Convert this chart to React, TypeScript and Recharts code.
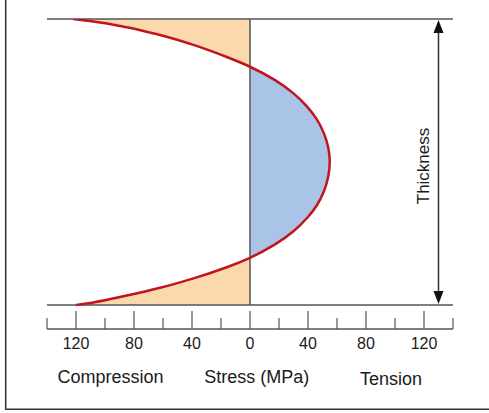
import {
  Area,
  ComposedChart,
  Line,
  ReferenceLine,
  XAxis,
  YAxis,
} from "recharts";

// depth through the thickness (0 = top surface, 1 = bottom surface)
const depth = [
  0, 0.0085, 0.0285, 0.056, 0.0906, 0.133, 0.167, 0.213, 0.26, 0.307, 0.35,
  0.4, 0.45, 0.5, 0.55, 0.602, 0.652, 0.695, 0.742, 0.789, 0.835, 0.868, 0.907,
  0.94, 0.967, 0.991, 1,
];

// residual stress in MPa (negative = compression)
const stress = [
  -122, -108, -85, -62, -39, -16, 0, 17, 30, 39.5, 46, 51, 54, 55, 54, 51, 46,
  39.5, 30, 17, 0, -16, -39, -62, -85, -108, -120,
];

const stressTicks = [
  -140, -120, -100, -80, -60, -40, -20, 0, 20, 40, 60, 80, 100, 120, 140,
];

const bottomLabels = ["Compression", "Stress (MPa)", "Tension"];

const data = depth.map((d, i) => ({ depth: d, stress: stress[i] }));

// where the fill switches from compression (orange) to tension (blue)
const minStress = Math.min(...stress);
const maxStress = Math.max(...stress);
const zeroOffset = -minStress / (maxStress - minStress);

const FONT = "'Liberation Sans', Arial, Helvetica, sans-serif";

function StressTick({ x, y, payload }: any) {
  const v = payload.value;
  const major = v % 40 === 0;
  const labelled = major && Math.abs(v) <= 120;
  return (
    <g>
      <line
        x1={x}
        y1={y}
        x2={x}
        y2={y - (major ? 18 : 11)}
        stroke="#555"
        strokeWidth={1.2}
      />
      {labelled && (
        <text
          x={x}
          y={y + 20}
          textAnchor="middle"
          fontSize={16}
          fill="#1a1a1a"
          fontFamily={FONT}
        >
          {Math.abs(v)}
        </text>
      )}
    </g>
  );
}

function ThicknessArrow(props: any) {
  const { x1, y1, y2 } = props;
  const top = Math.min(y1, y2);
  const bottom = Math.max(y1, y2);
  return (
    <g>
      <line
        x1={x1}
        y1={top + 6}
        x2={x1}
        y2={bottom - 6}
        stroke="#333"
        strokeWidth={1.5}
      />
      <polygon
        points={`${x1},${top + 1} ${x1 - 5},${top + 14} ${x1 + 5},${top + 14}`}
        fill="#111"
      />
      <polygon
        points={`${x1},${bottom - 1} ${x1 - 5},${bottom - 14} ${x1 + 5},${bottom - 14}`}
        fill="#111"
      />
      <text
        transform={`translate(${x1 - 10},${(top + bottom) / 2 + 4}) rotate(-90)`}
        textAnchor="middle"
        fontSize={17}
        fill="#1a1a1a"
        fontFamily={FONT}
      >
        Thickness
      </text>
    </g>
  );
}

export default function App() {
  return (
    <div
      style={{
        position: "absolute",
        left: 0,
        top: 0,
        width: 489,
        height: 413,
        background: "#fff",
      }}
    >
      <ComposedChart
        layout="vertical"
        width={489}
        height={413}
        data={data}
        margin={{ top: 19, right: 36, bottom: 54, left: 47 }}
      >
        <defs>
          <linearGradient id="stressFill" x1="0" y1="0" x2="1" y2="0">
            <stop offset={zeroOffset} stopColor="#fcd9ad" />
            <stop offset={zeroOffset} stopColor="#a9c4e6" />
          </linearGradient>
        </defs>
        <XAxis
          type="number"
          dataKey="stress"
          domain={[-140, 140]}
          ticks={stressTicks}
          interval={0}
          tick={<StressTick />}
          tickLine={false}
          tickSize={0}
          tickMargin={0}
          height={30}
          axisLine={{ stroke: "#555", strokeWidth: 1.5 }}
        />
        <YAxis
          type="number"
          dataKey="depth"
          domain={[0, 1.084]}
          allowDataOverflow
          hide
        />
        <Area
          type="monotone"
          dataKey="stress"
          fill="url(#stressFill)"
          fillOpacity={1}
          stroke="none"
          isAnimationActive={false}
        />
        <ReferenceLine y={0} stroke="#555" strokeWidth={1.5} />
        <ReferenceLine y={1} stroke="#555" strokeWidth={1.5} />
        <ReferenceLine
          segment={[
            { x: 0, y: 0 },
            { x: 0, y: 1 },
          ]}
          stroke="#555"
          strokeWidth={1.5}
        />
        <Line
          type="monotone"
          dataKey="stress"
          stroke="#c0141e"
          strokeWidth={2.5}
          dot={false}
          isAnimationActive={false}
        />
        <ReferenceLine
          segment={[
            { x: 130, y: 0 },
            { x: 130, y: 1 },
          ]}
          shape={ThicknessArrow}
        />
      </ComposedChart>
      <svg
        width={489}
        height={413}
        style={{ position: "absolute", left: 0, top: 0, pointerEvents: "none" }}
      >
        <polyline
          points="5.7,0 5.7,409.3 489,409.3"
          fill="none"
          stroke="#333"
          strokeWidth={1.5}
        />
        <text x={110.5} y={383} textAnchor="middle" fontSize={18} fill="#1a1a1a" fontFamily={FONT}>
          {bottomLabels[0]}
        </text>
        <text x={256.7} y={383} textAnchor="middle" fontSize={18} fill="#1a1a1a" fontFamily={FONT}>
          {bottomLabels[1]}
        </text>
        <text x={391} y={385} textAnchor="middle" fontSize={18} fill="#1a1a1a" fontFamily={FONT}>
          {bottomLabels[2]}
        </text>
      </svg>
    </div>
  );
}
